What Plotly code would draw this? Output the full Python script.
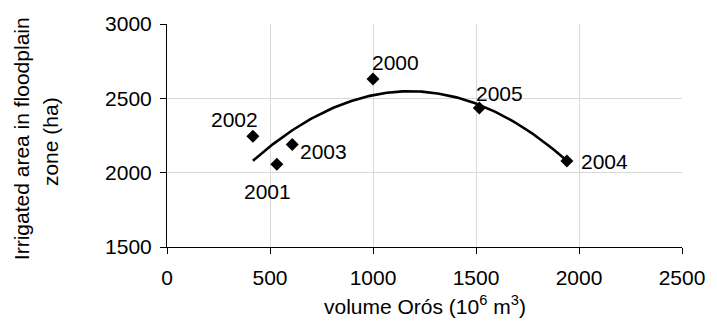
import numpy as np
import plotly.graph_objects as go

years = ["2000", "2001", "2002", "2003", "2004", "2005"]
volume = [1000, 533, 417, 608, 1941, 1516]
area = [2630, 2057, 2245, 2189, 2078, 2435]
# label offsets (pixels) relative to each point: style only
label_dx = [22, -9, -18, 31, 38, 20]
label_dy = [17, -27, 17, -7, 0, 15]

x_ticks = [0, 500, 1000, 1500, 2000, 2500]
y_ticks = [1500, 2000, 2500, 3000]
x_title = "volume Orós (10<sup>6</sup> m<sup>3</sup>)"
y_title_lines = ["Irrigated area in floodplain", "zone (ha)"]

coef = np.polyfit(volume, area, 2)
xs = np.linspace(min(volume), max(volume), 200)
ys = np.polyval(coef, xs)

FONT = "Arial, Liberation Sans, sans-serif"
FS = 21

fig = go.Figure()
fig.add_trace(go.Scatter(x=xs, y=ys, mode="lines",
                         line=dict(color="black", width=2.6),
                         hoverinfo="skip", showlegend=False))
fig.add_trace(go.Scatter(x=volume, y=area, mode="markers",
                         marker=dict(symbol="diamond", size=10, color="black"),
                         showlegend=False))

annotations = []
for xv, yv, t, dx, dy in zip(volume, area, years, label_dx, label_dy):
    annotations.append(dict(x=xv, y=yv, xref="x", yref="y", text=t, showarrow=False,
                            xanchor="center", yanchor="middle", xshift=dx, yshift=dy,
                            font=dict(family=FONT, size=FS, color="black")))
annotations.append(dict(x=0.5, y=-0.262, xref="paper", yref="paper", text=x_title,
                        showarrow=False, xanchor="center", yanchor="middle",
                        font=dict(family=FONT, size=FS, color="black")))
for xp, yp, t in zip([-0.282, -0.225], [0.487, 0.471], y_title_lines):
    annotations.append(dict(x=xp, y=yp, xref="paper", yref="paper", text=t, textangle=-90,
                            showarrow=False, xanchor="center", yanchor="middle",
                            font=dict(family=FONT, size=FS, color="black")))

fig.update_layout(
    width=717, height=322,
    margin=dict(l=167, r=26, t=19, b=75),
    paper_bgcolor="white", plot_bgcolor="white",
    font=dict(family=FONT, size=FS, color="black"),
    annotations=annotations,
)
fig.update_xaxes(range=[0, 2500], tickvals=x_ticks, showgrid=True, gridcolor="#d9d9d9",
                 gridwidth=1, showline=True, linecolor="black", linewidth=1,
                 ticks="outside", ticklen=6, tickcolor="black", zeroline=False,
                 ticklabelstandoff=6)
fig.update_yaxes(range=[1500, 3000], tickvals=y_ticks, showgrid=True, gridcolor="#d9d9d9",
                 gridwidth=1, showline=True, linecolor="black", linewidth=1,
                 ticks="outside", ticklen=6, tickcolor="black", zeroline=False,
                 ticklabelstandoff=4)

fig.write_html("out.html")
